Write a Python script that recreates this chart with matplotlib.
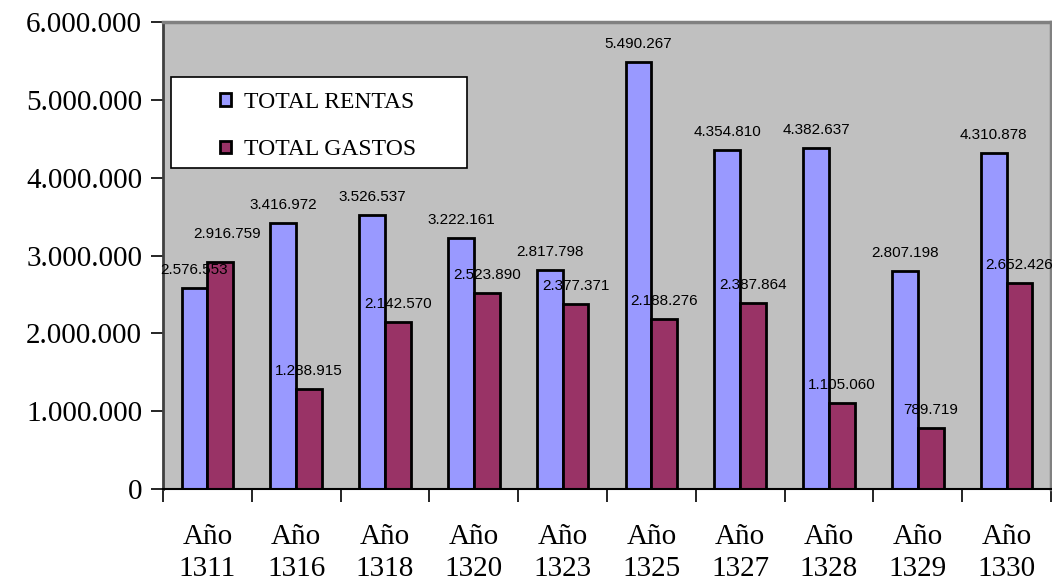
import matplotlib
matplotlib.use("Agg")
import matplotlib.pyplot as plt
import numpy as np
from matplotlib.ticker import FuncFormatter, FixedLocator, NullFormatter
from matplotlib.patches import Rectangle

categories = ["Año\n1311", "Año\n1316", "Año\n1318", "Año\n1320", "Año\n1323",
              "Año\n1325", "Año\n1327", "Año\n1328", "Año\n1329", "Año\n1330"]
rentas = [2576553, 3416972, 3526537, 3222161, 2817798,
          5490267, 4354810, 4382637, 2807198, 4310878]
gastos = [2916759, 1288915, 2142570, 2523890, 2377371,
          2188276, 2387864, 1105060, 789719, 2652426]
series_names = ["TOTAL RENTAS", "TOTAL GASTOS"]
yticks = [0, 1000000, 2000000, 3000000, 4000000, 5000000, 6000000]


def fmt(v):
    return f"{int(v):,}".replace(",", ".")


W, H = 1052, 583
fig = plt.figure(figsize=(W / 100, H / 100), dpi=100)
ax = fig.add_axes([163 / W, 1 - 489 / H, (1051 - 163) / W, (489 - 22) / H])
ax.set_facecolor("#C0C0C0")

x = np.arange(len(categories))
w = 0.29
ax.bar(x - w / 2, rentas, w, color="#9999FF", edgecolor="black", linewidth=2,
       label=series_names[0], zorder=2)
ax.bar(x + w / 2, gastos, w, color="#993366", edgecolor="black", linewidth=2,
       label=series_names[1], zorder=2)

lab_font = dict(family="Liberation Sans", fontsize=11, color="black")
for i in range(len(categories)):
    ax.annotate(fmt(rentas[i]), (x[i] - w / 2, rentas[i]), xytext=(0, 18),
                textcoords="offset pixels", ha="center", va="center", zorder=3, **lab_font)
    off = 28 if (i == 0) else 18
    ax.annotate(fmt(gastos[i]), (x[i] + w / 2, gastos[i]), xytext=(7 if i == 0 else 0, off),
                textcoords="offset pixels", ha="center", va="center", zorder=3, **lab_font)

ax.set_xlim(-0.5, len(categories) - 0.5)
ax.set_ylim(0, 6000000)
ax.yaxis.set_major_locator(FixedLocator(yticks))
ax.yaxis.set_major_formatter(FuncFormatter(lambda v, p: fmt(v)))
ax.set_xticks(np.arange(len(categories) + 1) - 0.5)
ax.xaxis.set_major_formatter(NullFormatter())
ax.set_xticks(x, minor=True)
ax.set_xticklabels(categories, minor=True)
ax.tick_params(axis="x", which="minor", length=0, pad=25, labelsize=21)
ax.tick_params(axis="x", which="major", length=9, width=1.2, direction="out")
ax.tick_params(axis="y", length=9, width=1.2, direction="out", pad=6, labelsize=21)
for lab in ax.get_xticklabels(minor=True) + ax.get_yticklabels():
    lab.set_fontfamily("Liberation Serif")
for lab in ax.get_xticklabels(minor=True):
    lab.set_linespacing(1.3)

ax.spines["left"].set_color("#404040")
ax.spines["left"].set_linewidth(2)
ax.spines["bottom"].set_color("black")
ax.spines["bottom"].set_linewidth(1.5)
ax.spines["top"].set_color("#808080")
ax.spines["top"].set_linewidth(2.5)
ax.spines["right"].set_color("#808080")
ax.spines["right"].set_linewidth(2.5)

# legend box
box = Rectangle((171 / W, 1 - 168 / H), (467 - 171) / W, (168 - 77) / H,
                transform=fig.transFigure, facecolor="white", edgecolor="black",
                linewidth=1.2, zorder=4)
fig.add_artist(box)
leg = fig.legend(loc="upper left", bbox_to_anchor=(220 / W, 1 - 92 / H),
                 bbox_transform=fig.transFigure,
                 frameon=False, prop={"family": "Liberation Serif", "size": 17},
                 handlelength=0.45, handleheight=0.45, handletextpad=0.55,
                 borderpad=0, labelspacing=1.12, borderaxespad=0)
leg.set_zorder(5)

fig.savefig("out.png", dpi=100, facecolor="white")
